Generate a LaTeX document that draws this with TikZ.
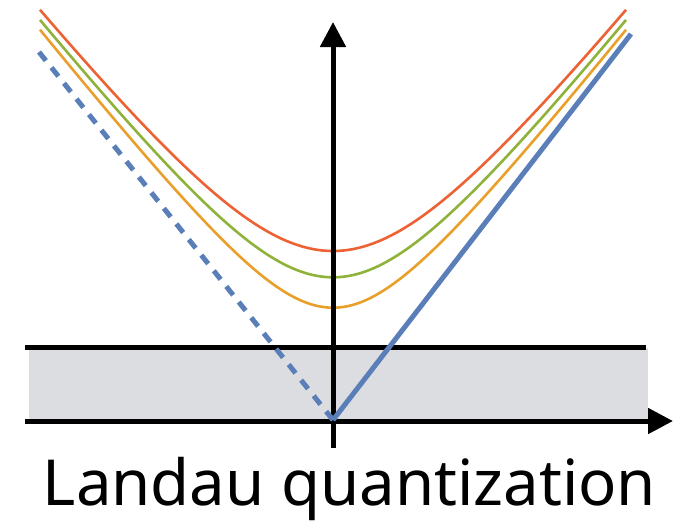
\documentclass[tikz,border=0pt]{standalone}
\usepackage{fontspec}
\setmainfont{Noto Sans}
\usetikzlibrary{arrows.meta}
\definecolor{cred}{HTML}{EC6234}
\definecolor{cgreen}{HTML}{8FB33A}
\definecolor{corange}{HTML}{E8A02A}
\definecolor{cblue}{HTML}{5A7FB8}
\definecolor{cgray}{HTML}{DCDDE0}
\tikzset{
  axisline/.style={line width=5pt, black},
  axisarrow/.style={axisline, -{Triangle[length=25pt,width=25pt]}},
  level/.style={line width=2.6pt, domain=-293:293, samples=121, smooth},
  cone/.style={line width=5pt, cblue},
  conedash/.style={cone, dash pattern=on 11pt off 9pt},
}
\begin{document}
\begin{tikzpicture}[x=1pt,y=-1pt]
\useasboundingbox (0,0) rectangle (690,523);
% band
\fill[cgray] (29,348) rectangle (648,421);
\coordinate (bl) at (25,347.5);
\coordinate (br) at (646,347.5);
\draw[axisline] (bl) -- (br);
% Landau levels
\foreach \m/\c in {169/cred, 142.7/cgreen, 112.3/corange}{
  \draw[level, \c] plot ({333+\x}, {420-100*sqrt((\m/100)^2+(0.01275*\x)^2)});
}
% axes
\coordinate (xs) at (25,421);
\coordinate (xe) at (673,421);
\coordinate (ys) at (333,448);
\coordinate (ye) at (333,22);
\draw[axisarrow] (xs) -- (xe);
\draw[axisarrow] (ys) -- (ye);
% Dirac cone
\coordinate (v) at (333,420);
\coordinate (cl) at (35,47);
\coordinate (cr) at (631,34);
\draw[cone] (v) -- (cr);
\draw[conedash] (v) -- (cl);
% label
\node[anchor=base, inner sep=0pt, font=\fontsize{63.5}{70}\selectfont] (lab) at (349.5,505) {Landau quantization};
\end{tikzpicture}
\end{document}
